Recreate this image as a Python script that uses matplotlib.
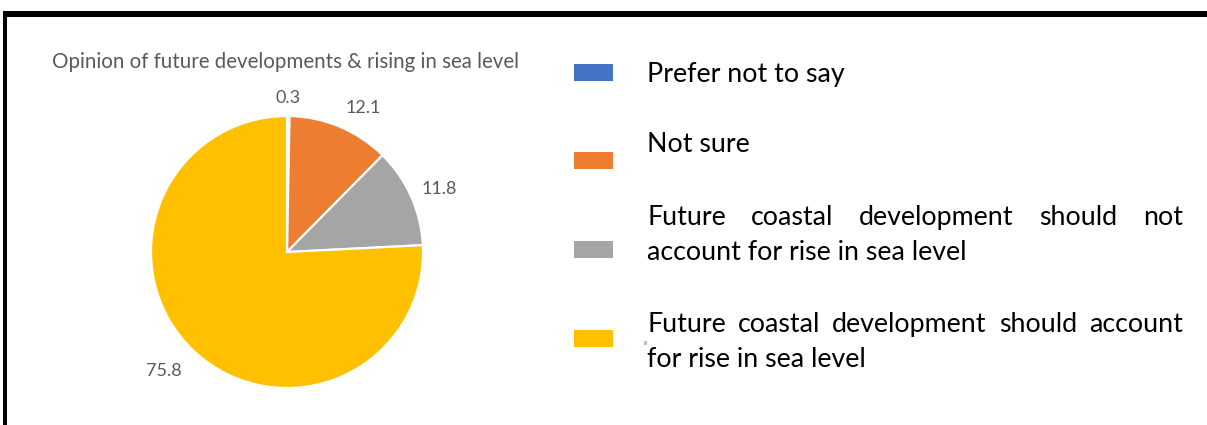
import matplotlib
matplotlib.use("Agg")
import matplotlib.pyplot as plt
from matplotlib.patches import Rectangle
import numpy as np

plt.rcParams['font.family'] = ['Lato', 'DejaVu Sans']

# ---------------- data ----------------
title = "Opinion of future developments & rising in sea level"
categories = ["Prefer not to say",
              "Not sure",
              "Future coastal development should not account for rise in sea level",
              "Future coastal development should account for rise in sea level"]
values = [0.3, 12.1, 11.8, 75.8]
value_labels = ["0.3", "12.1", "11.8", "75.8"]
colors = ["#4472C4", "#ED7D31", "#A5A5A5", "#FFC000"]
legend_lines = [["Prefer not to say"],
                ["Not sure"],
                ["Future coastal development should not", "account for rise in sea level"],
                ["Future coastal development should account", "for rise in sea level"]]

# ---------------- layout (pixels) ----------------
W, H = 1207, 425
R = 136.0
cx, cy = 287.0, 252.0
pie_w = 574.0

fig = plt.figure(figsize=(W / 100, H / 100), dpi=100)
fig.patch.set_facecolor("white")

ax = fig.add_axes([0, 0, pie_w / W, 1])
wedges, _ = ax.pie(values, colors=colors, startangle=90, counterclock=False,
                   radius=1.0,
                   wedgeprops=dict(edgecolor="white", linewidth=1.6))
ax.set_aspect("auto")
ax.set_xlim(-cx / R, (pie_w - cx) / R)
ax.set_ylim(-(H - cy) / R, cy / R)
ax.axis("off")

# data labels placed outside end of each slice
label_tweak = [(1.13, 0.0), (1.20, -5.0), (1.21, -1.7), (1.26, -2.4)]
for w, lab, (dist, dth) in zip(wedges, value_labels, label_tweak):
    th = np.deg2rad((w.theta1 + w.theta2) / 2 + dth)
    ax.text(dist * np.cos(th), dist * np.sin(th), lab, ha="center", va="center",
            fontsize=13, color="#595959")

# overlay in pixel coordinates
ov = fig.add_axes([0, 0, 1, 1], zorder=5)
ov.set_xlim(0, W)
ov.set_ylim(H, 0)
ov.axis("off")
ov.patch.set_alpha(0)

# frame lines
ov.add_patch(Rectangle((3, 11), W - 3, 6, color="black", lw=0))
ov.add_patch(Rectangle((3, 11), 4, H - 11, color="black", lw=0))

# title
ov.text(286, 62, title, ha="center", va="center", fontsize=14.8, color="#595959")

# legend
sq_centers = [72, 160.5, 249, 338]
baselines = [[82], [152], [225, 260], [332, 367]]
tx0, tx1 = 647, 1183
leg_fs = 19.3
renderer = fig.canvas.get_renderer()
for col, yc in zip(colors, sq_centers):
    ov.add_patch(Rectangle((574, yc - 8.5), 39, 17, color=col, lw=0))

for lines, bls in zip(legend_lines, baselines):
    n = len(lines)
    for i, (line, bl) in enumerate(zip(lines, bls)):
        justify = (n > 1 and i < n - 1)
        if not justify:
            ov.text(tx0, bl, line, ha="left", va="baseline", fontsize=leg_fs, color="black")
            continue
        words = line.split(" ")
        objs = []
        widths = []
        for wd in words:
            t = ov.text(0, bl, wd, ha="left", va="baseline", fontsize=leg_fs, color="black")
            objs.append(t)
            widths.append(t.get_window_extent(renderer).width)
        gap = (tx1 - tx0 - sum(widths)) / (len(words) - 1)
        x = tx0
        for t, wdt in zip(objs, widths):
            t.set_x(x)
            x += wdt + gap

# small stray mark seen in the reference
ov.add_patch(Rectangle((644, 341), 3, 4, color="#BFBFBF", lw=0))

fig.savefig("out.png", dpi=100, facecolor="white")
